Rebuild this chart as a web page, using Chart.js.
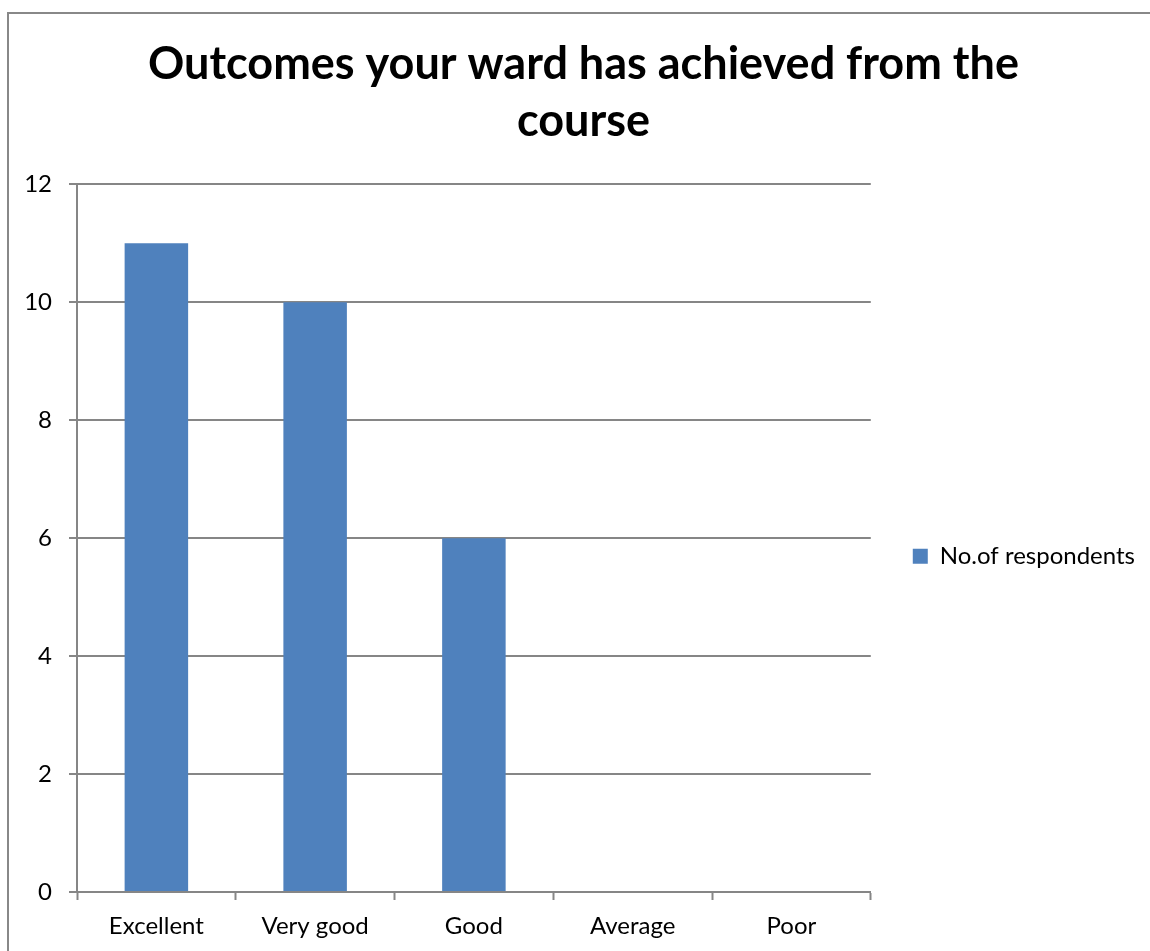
<!DOCTYPE html>
<html>
<head>
<meta charset="utf-8">
<script src="https://cdn.jsdelivr.net/npm/chart.js@4"></script>
<style>
  html, body { margin: 0; padding: 0; background: #fff; overflow: hidden; }
  #frame { position: absolute; left: 7px; top: 12px; width: 1200px; height: 1000px; border: 2px solid #888; }
  #wrap { position: absolute; left: 0; top: 0; width: 1150px; height: 951px; }
</style>
</head>
<body>
<div id="frame"></div>
<div id="wrap"><canvas id="chart"></canvas></div>
<script>
const categories = ['Excellent', 'Very good', 'Good', 'Average', 'Poor'];
const respondents = [11, 10, 6, 0, 0];
const yTicks = [0, 2, 4, 6, 8, 10, 12];

const gridGray = '#868686';
const barBlue = '#4f81bd';

const ctx = document.getElementById('chart').getContext('2d');

const chart = new Chart(ctx, {
    type: 'bar',
    data: {
        labels: categories,
        datasets: [{
            label: 'No.of respondents',
            data: respondents,
            backgroundColor: barBlue,
            borderWidth: 0,
            barPercentage: 0.4,
            categoryPercentage: 1
        }]
    },
    options: {
        responsive: true,
        maintainAspectRatio: false,
        animation: false,
        layout: {
            padding: { left: 22, right: 5, top: 0, bottom: 0 }
        },
        plugins: {
            title: {
                display: true,
                text: ['Outcomes your ward has achieved from the', 'course'],
                color: '#000',
                font: { family: 'Lato', size: 45, weight: 'bold', lineHeight: 1.27 },
                padding: { top: 36, bottom: 34 }
            },
            legend: {
                position: 'right',
                fullSize: false,
                // blank title just nudges the entry down a little
                title: {
                    display: true,
                    text: ' ',
                    font: { family: 'Lato', size: 20, lineHeight: 1.2 },
                    padding: 6
                },
                labels: {
                    color: '#000',
                    boxWidth: 15,
                    boxHeight: 15,
                    padding: 42,
                    font: { family: 'Lato', size: 24 }
                }
            },
            tooltip: { enabled: false }
        },
        scales: {
            x: {
                afterFit: axis => { axis.height = 59; },
                grid: {
                    offset: true,
                    drawOnChartArea: false,
                    drawTicks: true,
                    tickLength: 8,
                    tickColor: gridGray,
                    tickWidth: 2
                },
                border: { color: gridGray, width: 2 },
                ticks: {
                    color: '#000',
                    padding: 12,
                    font: { family: 'Lato', size: 24 }
                }
            },
            y: {
                min: 0,
                max: 12,
                afterBuildTicks: axis => {
                    axis.ticks = yTicks.map(v => ({ value: v }));
                },
                afterFit: axis => { axis.width = 55; },
                grid: {
                    color: gridGray,
                    lineWidth: 2,
                    tickLength: 8,
                    drawTicks: true
                },
                border: { color: gridGray, width: 2 },
                ticks: {
                    color: '#000',
                    padding: 17,
                    font: { family: 'Lato', size: 24 }
                }
            }
        }
    }
});
</script>
</body>
</html>
